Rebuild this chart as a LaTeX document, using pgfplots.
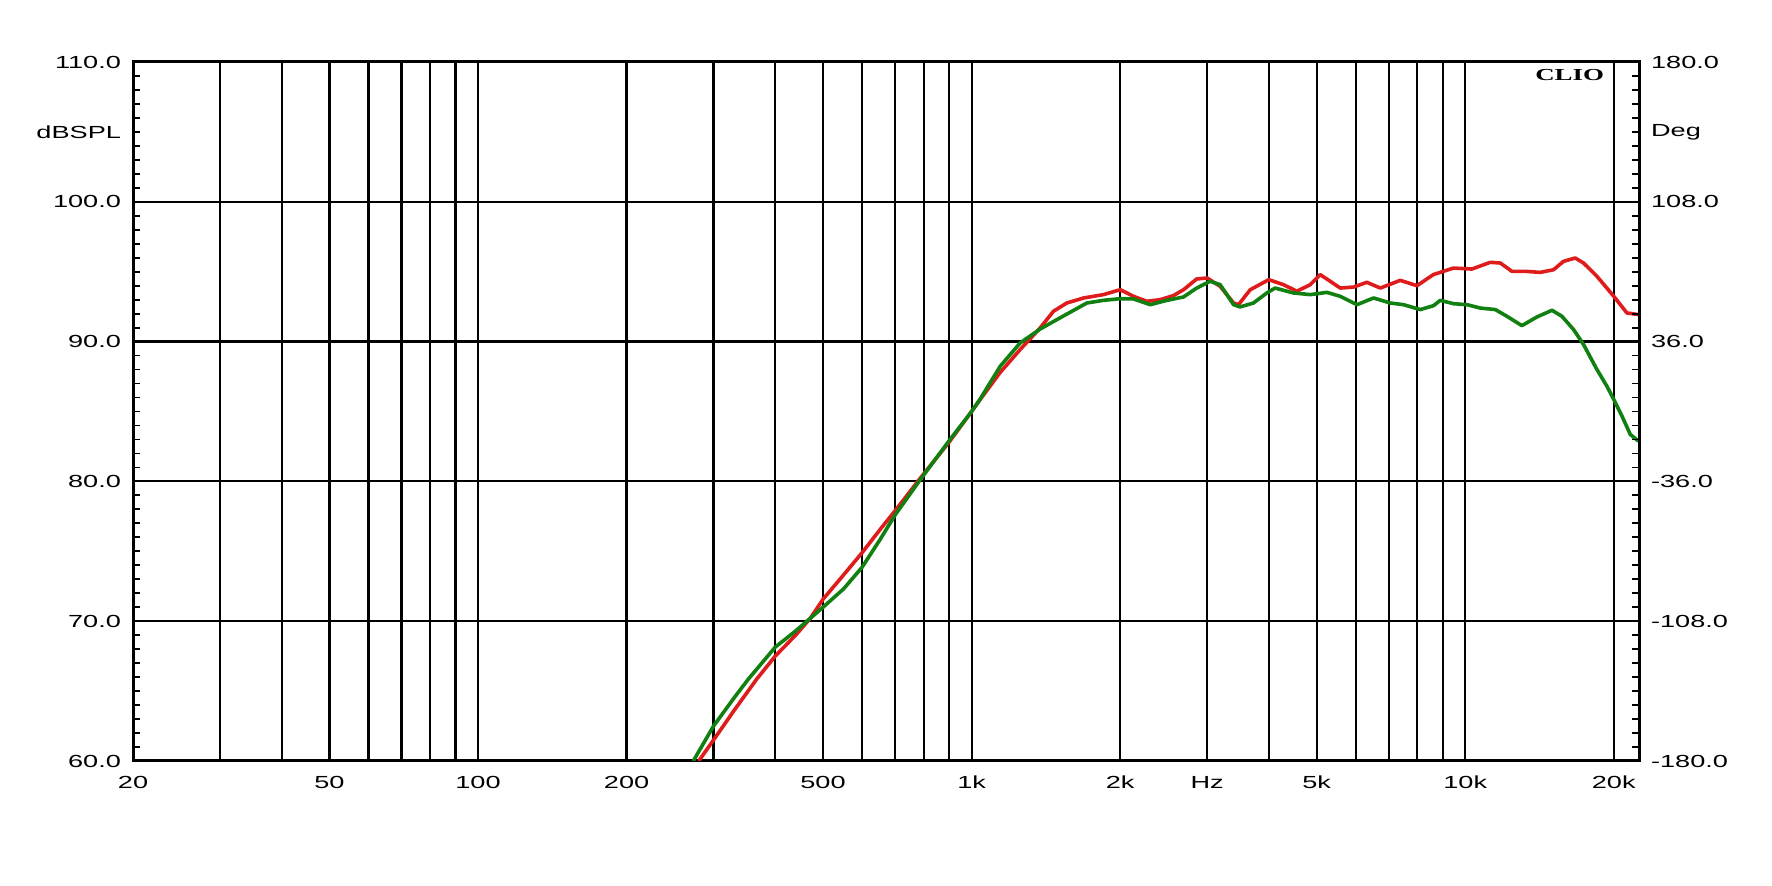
\documentclass[border=0pt]{standalone}
\usepackage{fontspec}
\setmainfont{Liberation Sans}[FakeStretch=1.55]
\newfontfamily\cliofont{Liberation Serif}[FakeStretch=1.6]
\usepackage{pgfplots}
\pgfplotsset{compat=1.18}
\definecolor{cred}{RGB}{222,28,28}
\definecolor{cgreen}{RGB}{16,128,16}
\pgfplotstableread{
f db
280 60.0
300 61.5
330 63.6
367 65.86
400 67.5
440 69.0
471 70.2
500 71.57
550 73.3
600 74.9
653 76.57
700 77.9
790 80.3
900 82.8
1000 85.0
1041 85.86
1143 87.8
1254 89.43
1377 90.98
1465 92.17
1559 92.76
1686 93.12
1850 93.36
2000 93.71
2128 93.24
2265 92.88
2410 93.0
2564 93.29
2687 93.71
2858 94.48
3000 94.55
3189 93.95
3394 92.76
3473 92.64
3669 93.71
4000 94.43
4285 94.07
4560 93.6
4853 94.07
5083 94.79
5330 94.31
5582 93.83
5941 93.9
6320 94.24
6730 93.83
7387 94.38
7983 94.0
8630 94.8
8900 94.95
9470 95.26
10320 95.19
11240 95.67
11780 95.62
12440 95.02
13340 95.02
14190 94.95
15100 95.14
15820 95.74
16710 95.98
17370 95.62
18490 94.67
20000 93.24
21260 92.05
22440 91.93
}\redtable
\pgfplotstableread{
f db
273 60.0
300 62.5
330 64.5
353 65.86
400 68.14
440 69.3
471 70.2
500 71.0
550 72.3
600 73.86
653 75.86
700 77.6
790 80.2
900 82.9
1000 85.0
1041 85.9
1143 88.24
1254 89.9
1377 90.9
1511 91.7
1712 92.76
1850 92.95
2000 93.07
2128 93.05
2301 92.64
2487 92.95
2687 93.19
2858 93.83
3041 94.31
3189 94.07
3394 92.64
3500 92.48
3724 92.76
3965 93.48
4120 93.83
4485 93.48
4853 93.36
5245 93.52
5582 93.24
6035 92.64
6523 93.12
7048 92.76
7500 92.64
8108 92.29
8630 92.57
8900 92.95
9470 92.71
10080 92.64
10730 92.4
11510 92.29
12150 91.81
13030 91.14
13970 91.76
14990 92.24
15700 91.81
16580 90.86
17370 89.79
18490 88.0
19370 86.81
20000 85.86
20780 84.67
21600 83.36
22440 82.88
}\greentable
\begin{document}
\begin{tikzpicture}
\path[use as bounding box] (0,0) rectangle (886pt,443pt);
\begin{axis}[
  at={(66.5pt,62.5pt)}, anchor=south west,
  scale only axis, width=753pt, height=349.5pt,
  xmode=log, xmin=20, xmax=22500,
  ymin=60, ymax=110,
  tick align=inside,
  major tick length=3.5pt, minor tick length=3.5pt,
  tick style={black, line width=0.9pt},
  tick label style={font=\fontsize{8.75}{10}\selectfont},
  axis line style={line width=1.5pt},
  xtick={20,30,40,50,60,70,80,90,100,200,300,400,500,600,700,800,900,1000,2000,3000,4000,5000,6000,7000,8000,9000,10000,20000},
  xticklabels={20,,,50,,,,,100,200,,,500,,,,,1k,2k,Hz,,5k,,,,,10k,20k},
  xminorticks=false,
  xtick style={draw=none},
  xticklabel style={yshift=-4pt},
  xmajorgrids, ymajorgrids,
  major grid style={black, line width=1.1pt},
  ytick={60,70,80,90,100,110},
  yticklabels={60.0,70.0,80.0,90.0,100.0,110.0},
  minor y tick num=9,
  yticklabel style={xshift=-2.5pt},
  extra y ticks={105},
  extra y tick labels={dBSPL},
  extra y tick style={grid=none, major tick length=0pt},
]
\addplot[cred, line width=1.8pt, line join=round] table[x=f, y=db] {\redtable};
\addplot[cgreen, line width=1.8pt, line join=round] table[x=f, y=db] {\greentable};
\node[anchor=east, inner sep=0pt, font=\cliofont\bfseries\fontsize{8.4}{9}\selectfont] at (rel axis cs:0.977,0.981) {CLIO};
\end{axis}
\begin{axis}[
  at={(66.5pt,62.5pt)}, anchor=south west,
  scale only axis, width=753pt, height=349.5pt,
  xmode=log, xmin=20, xmax=22500,
  ymin=-180, ymax=180,
  hide x axis,
  axis y line*=right,
  tick align=inside,
  major tick length=3.5pt, minor tick length=3.5pt,
  tick style={black, line width=0.9pt},
  tick label style={font=\fontsize{8.75}{10}\selectfont},
  axis line style={line width=1.5pt},
  ytick={-180,-108,-36,36,108,180},
  yticklabels={-180.0,-108.0,-36.0,36.0,108.0,180.0},
  minor y tick num=9,
  yticklabel style={xshift=2.5pt},
  extra y ticks={144},
  extra y tick labels={Deg},
  extra y tick style={grid=none, major tick length=0pt},
]
\end{axis}
\end{tikzpicture}
\end{document}
